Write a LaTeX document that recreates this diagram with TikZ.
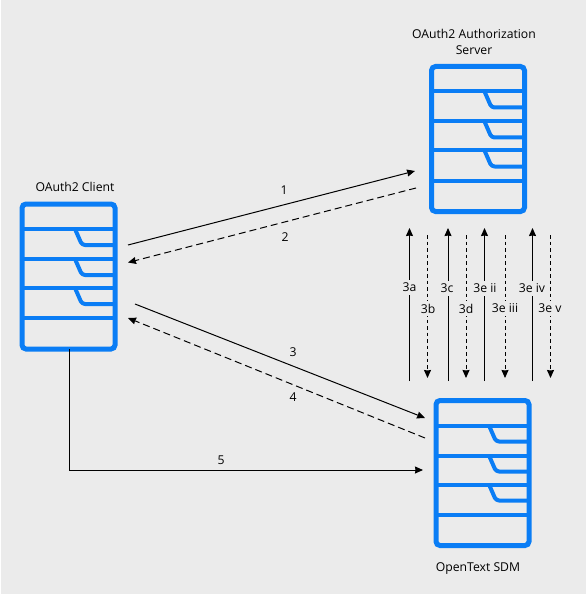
\documentclass[tikz,border=0pt]{standalone}
\usepackage{fontspec}
\setmainfont{Open Sans}
\usetikzlibrary{arrows.meta}
\definecolor{bgc}{HTML}{EBEBEB}
\definecolor{rackc}{HTML}{0A7DF5}
\tikzset{
  rack/.style={draw=rackc,line width=5pt,rounded corners=4pt,minimum width=93pt,minimum height=145pt,inner sep=0pt,outer sep=0pt},
  rackline/.style={draw=rackc,line width=4pt,line join=round},
  flow/.style={draw=black,line width=1pt,-{Stealth[length=8pt,width=7pt,inset=0.5pt]}},
  flowd/.style={flow,dash pattern=on 7pt off 4pt},
  vflowd/.style={flow,dash pattern=on 3.5pt off 3pt},
  txt/.style={font=\fontsize{12.2}{16.5}\selectfont,text=black,inner sep=1pt},
  tag/.style={txt,fill=bgc,inner xsep=2pt,inner ysep=3pt}
}
\newcommand{\rackinner}[1]{%
  \foreach \yy in {25,55,84,114}{\draw[rackline] ([shift={(0,\yy)}]#1.north west) -- ([shift={(0,\yy)}]#1.north east);}
  \foreach \yy in {25,55,84}{\draw[rackline,rounded corners=3pt] ([shift={(53,\yy)}]#1.north west) -- ([shift={(60,\yy+16)}]#1.north west) -- ([shift={(0,\yy+16)}]#1.north east);}
}
\begin{document}
\begin{tikzpicture}[x=1pt,y=-1pt]
\useasboundingbox (0,0) rectangle (586,596);
\fill[white] (0,0) rectangle (586,596);
\fill[bgc] (1,0) rectangle (586,594);
\node[rack] (client) at (68.5,276.5) {};
\node[rack] (server) at (478,139) {};
\node[rack] (sdm) at (482.5,473) {};
\rackinner{client}\rackinner{server}\rackinner{sdm}
\node[txt] (tclient) at (75,187) {OAuth2 Client};
\node[txt,align=center] (tserver) at (474,42) {OAuth2 Authorization\\Server};
\node[txt] (tsdm) at (478,568.5) {OpenText SDM};
% main connectors
\draw[flow] ([shift={(13,-31.5)}]client.east) -- ([shift={(-16.5,32)}]server.west);
\draw[flowd] ([shift={(-15.5,49)}]server.west) -- ([shift={(13,-14)}]client.east);
\draw[flow] ([shift={(20,27.5)}]client.east) -- ([shift={(-11,-55)}]sdm.west);
\draw[flowd] ([shift={(-11,-35)}]sdm.west) -- ([shift={(13,41.5)}]client.east);
\draw[flow] ([xshift=0.5pt]client.south) |- ([shift={(-13,-3)}]sdm.west);
\node[txt] (n1) at (284,190.5) {1};
\node[txt] (n2) at (285,237.5) {2};
\node[txt] (n3) at (293,352.5) {3};
\node[txt] (n4) at (293,397.5) {4};
\node[txt] (n5) at (221,460.5) {5};
% vertical exchanges
\foreach \nm/\xx in {a/409.5,c/448,e/484.5,g/532.5}{
  \coordinate (s\nm) at (\xx,381);
  \coordinate (t\nm) at (\xx,228);
  \draw[flow] (s\nm) -- (t\nm);
}
\foreach \nm/\xx in {b/427.5,d/466,f/505,h/550.5}{
  \coordinate (s\nm) at (\xx,235);
  \coordinate (t\nm) at (\xx,378);
  \draw[vflowd] (s\nm) -- (t\nm);
}
\node[tag] (la) at (409.5,287.5) {3a};
\node[tag] (lb) at (428,308.5) {3b};
\node[tag] (lc) at (447,288.5) {3c};
\node[tag] (ld) at (466,308.5) {3d};
\node[tag] (le) at (485,288.5) {3e ii};
\node[tag] (lf) at (505,308.5) {3e iii};
\node[tag] (lg) at (532,288.5) {3e iv};
\node[tag] (lh) at (550,308.5) {3e v};
\end{tikzpicture}
\end{document}
